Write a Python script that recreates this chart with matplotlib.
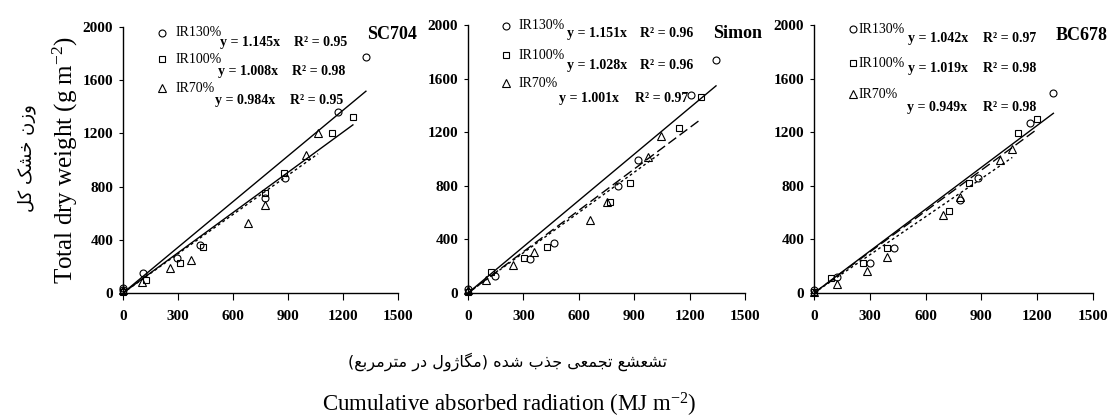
import matplotlib
matplotlib.use("Agg")
import matplotlib.pyplot as plt

plt.rcParams['font.family'] = ['Liberation Serif', 'DejaVu Sans']
plt.rcParams['mathtext.fontset'] = 'custom'
plt.rcParams['mathtext.rm'] = 'Liberation Serif'
plt.rcParams['mathtext.it'] = 'Liberation Serif:italic'
plt.rcParams['mathtext.bf'] = 'Liberation Serif:bold'

# ---------------- data ----------------
cultivars = ["SC704", "Simon", "BC678"]
treatments = ["IR130%", "IR100%", "IR70%"]
x_ticks = [0, 300, 600, 900, 1200, 1500]
y_ticks = [0, 400, 800, 1200, 1600, 2000]

# SC704
sc704_x130 = [0, 0, 109, 292, 420, 775, 881, 1174, 1325]
sc704_y130 = [40, 20, 147, 263, 358, 718, 865, 1361, 1774]
sc704_x100 = [0, 128, 311, 436, 777, 878, 1140, 1254]
sc704_y100 = [10, 98, 226, 343, 752, 902, 1203, 1323]
sc704_x70 = [0, 102, 256, 371, 682, 775, 998, 1064]
sc704_y70 = [20, 84, 188, 248, 528, 662, 1038, 1203]
sc704_slope = [1.145, 1.008, 0.984]
sc704_r2 = [0.95, 0.98, 0.95]

# Simon
simon_x130 = [0, 146, 338, 468, 814, 922, 1206, 1343]
simon_y130 = [30, 127, 251, 371, 798, 993, 1478, 1739]
simon_x100 = [0, 124, 305, 430, 769, 877, 1144, 1262]
simon_y100 = [10, 159, 259, 341, 677, 819, 1234, 1465]
simon_x70 = [0, 97, 245, 356, 661, 751, 976, 1045]
simon_y70 = [20, 97, 209, 304, 543, 678, 1015, 1172]
simon_slope = [1.151, 1.028, 1.001]
simon_r2 = [0.96, 0.96, 0.97]

# BC678
bc678_x130 = [0, 122, 303, 432, 785, 883, 1161, 1287]
bc678_y130 = [25, 122, 224, 333, 694, 861, 1271, 1490]
bc678_x100 = [0, 92, 265, 390, 728, 832, 1098, 1197]
bc678_y100 = [10, 112, 224, 335, 610, 818, 1196, 1296]
bc678_x70 = [0, 122, 283, 394, 695, 785, 1002, 1066]
bc678_y70 = [5, 70, 163, 265, 585, 719, 993, 1078]
bc678_slope = [1.042, 1.019, 0.949]
bc678_r2 = [0.97, 0.98, 0.98]

panels = [
    (cultivars[0], [(sc704_x130, sc704_y130), (sc704_x100, sc704_y100), (sc704_x70, sc704_y70)], sc704_slope, sc704_r2),
    (cultivars[1], [(simon_x130, simon_y130), (simon_x100, simon_y100), (simon_x70, simon_y70)], simon_slope, simon_r2),
    (cultivars[2], [(bc678_x130, bc678_y130), (bc678_x100, bc678_y100), (bc678_x70, bc678_y70)], bc678_slope, bc678_r2),
]

# Persian labels (pre-shaped presentation forms, visual order)
def pf(codes):
    return ''.join(chr(c) for c in codes)

fa_ylabel = pf([0xFEDE, 0xFB90, 0x20, 0xFB8F, 0xFEB8, 0xFEA7, 0x20, 0xFEE5, 0xFEAF, 0xFEED])
fa_xlabel = ("(" + pf([0xFECA, 0xFE91, 0xFEAE, 0xFEE3, 0xFEAE, 0xFE98, 0xFEE3]) + " "
             + pf([0xFEAD, 0xFEA9]) + " "
             + pf([0xFEDD, 0xFEED, 0xFB8A, 0xFE8E, 0xFB95, 0xFEE3]) + ")" + " "
             + pf([0xFEE9, 0xFEAA, 0xFEB7]) + " "
             + pf([0xFE8F, 0xFEAC, 0xFE9F]) + " "
             + pf([0xFEF0, 0xFECC, 0xFEE4, 0xFEA0, 0xFE97]) + " "
             + pf([0xFECA, 0xFEB8, 0xFECC, 0xFEB8, 0xFE97]))

# ---------------- layout ----------------
W, H = 1108, 418
fig = plt.figure(figsize=(W / 100, H / 100), dpi=100)

axes_px = [(123, 27, 275, 266), (468, 25, 277, 268), (814, 25, 279, 268)]
markers = ['o', 's', '^']
msizes = [5, 5, 6]
line_styles = [
    ['-', '-', (0, (2, 2))],
    ['-', (0, (7, 3)), (0, (2, 2))],
    ['-', (0, (7, 3)), (0, (2, 2))],
]

# text positions in data coords per panel
legend_pos = [
    dict(mx=213, tx=289, ys=[1955, 1759, 1541]),
    dict(mx=206, tx=271, ys=[1993, 1776, 1567]),
    dict(mx=210, tx=240, ys=[1970, 1716, 1485]),
]
eq_pos = [
    dict(ex=[529, 518, 502], rx=[933, 922, 911], ys=[1887, 1662, 1451]),
    dict(ex=[536, 536, 493], rx=[931, 931, 904], ys=[1940, 1701, 1455]),
    dict(ex=[505, 505, 500], rx=[909, 909, 909], ys=[1896, 1679, 1388]),
]
name_pos = [(1331, 1940), (1327, 1940), (1298, 1925)]

for i, (name, series, slopes, r2s) in enumerate(panels):
    l, t, w, h = axes_px[i]
    ax = fig.add_axes([l / W, (H - t - h) / H, w / W, h / H])
    ax.set_xlim(0, 1500)
    ax.set_ylim(0, 2000)
    for s in ['top', 'right']:
        ax.spines[s].set_visible(False)
    for s in ['left', 'bottom']:
        ax.spines[s].set_linewidth(1.0)
    ax.set_xticks(x_ticks)
    ax.set_yticks(y_ticks)
    ax.tick_params(axis='x', direction='out', length=5, width=0.8, pad=7)
    ax.tick_params(axis='y', direction='out', length=3, width=0.8, pad=4)
    for lab in ax.get_xticklabels() + ax.get_yticklabels():
        lab.set_fontweight('bold')
        lab.set_fontsize(11)

    for j, (xs, ys) in enumerate(series):
        ax.plot(xs, ys, linestyle='none', marker=markers[j], markersize=msizes[j],
                markerfacecolor='none', markeredgecolor='black', markeredgewidth=0.8,
                clip_on=False, zorder=3)
        xmax = max(xs)
        ax.plot([0, xmax], [0, slopes[j] * xmax], color='black', linewidth=1.0,
                linestyle=line_styles[i][j], zorder=2)

    lp = legend_pos[i]
    for j in range(3):
        ax.plot([lp['mx']], [lp['ys'][j]], linestyle='none', marker=markers[j],
                markersize=msizes[j], markerfacecolor='none', markeredgecolor='black',
                markeredgewidth=0.8, clip_on=False)
        ax.text(lp['tx'], lp['ys'][j], treatments[j], fontsize=10,
                ha='left', va='center')
    ep = eq_pos[i]
    for j in range(3):
        ax.text(ep['ex'][j], ep['ys'][j], "y = %.3fx" % slopes[j], fontsize=10,
                fontweight='bold', ha='left', va='center')
        ax.text(ep['rx'][j], ep['ys'][j], "R\u00b2 = %.2f" % r2s[j], fontsize=10,
                fontweight='bold', ha='left', va='center')
    ax.text(name_pos[i][0], name_pos[i][1], name, fontsize=13, fontweight='bold',
            ha='left', va='center', clip_on=False)

# axis titles
fig.text(65 / W, 1 - 160 / H, "Total dry weight (g m$^{\\mathregular{-2}}$)",
         rotation=90, ha='center', va='center', fontsize=18)
fig.text(27 / W, 1 - 158 / H, fa_ylabel, rotation=90, ha='center', va='center',
         fontsize=13, family=['DejaVu Sans'])
fig.text(507 / W, 1 - 362 / H, fa_xlabel, ha='center', va='center', fontsize=11.5,
         family=['DejaVu Sans'])
fig.text(509 / W, 1 - 405 / H, "Cumulative absorbed radiation (MJ m$^{\\mathregular{-2}}$)",
         ha='center', va='center', fontsize=16.5)

fig.savefig("out.png", dpi=100)
